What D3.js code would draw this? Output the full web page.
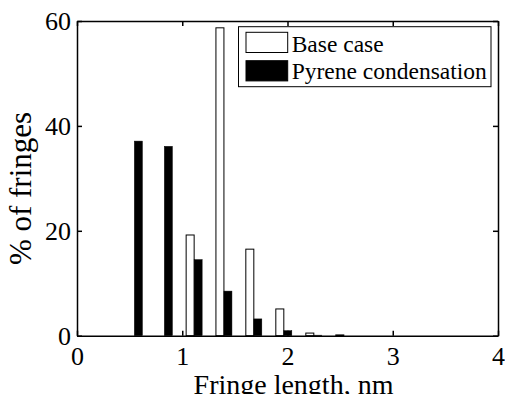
<!DOCTYPE html>
<html>
<head>
<meta charset="utf-8">
<script src="https://cdn.jsdelivr.net/npm/d3@7"></script>
<style>
  body { margin: 0; background: #fff; }
  svg { display: block; font-family: "Liberation Serif", "Times New Roman", serif; }
  .axis text { font-size: 26px; fill: #000; font-family: "Liberation Serif", serif; }
  .axis path, .axis line { stroke: #000; stroke-width: 1.5; }
</style>
</head>
<body>
<div id="chart"></div>
<script>
// bin centres (nm) and percentages per series
var binCenters = [0.545, 0.83, 1.113, 1.396, 1.68, 1.965, 2.25, 2.535];
var baseCase = [0, 0, 19.2, 58.7, 16.5, 5.1, 0.5, 0.15];
var pyrene = [37.1, 36.1, 14.5, 8.5, 3.2, 0.95, 0.1, 0];
var seriesNames = ['Base case', 'Pyrene condensation'];
var seriesFill = ['#fff', '#000'];
var xTicks = [0, 1, 2, 3, 4];
var yTicks = [0, 20, 40, 60];

var width = 505,
    height = 394,
    margin = { left: 77, right: 7, top: 21, bottom: 58.3 };

var chartWidth = width - margin.left - margin.right;
var chartHeight = height - margin.top - margin.bottom;

var svg = d3.select('#chart').append('svg')
    .attr('width', width)
    .attr('height', height);

var xScale = d3.scaleLinear().domain([0, 4]).range([0, chartWidth]);
var yScale = d3.scaleLinear().domain([0, 60]).range([chartHeight, 0]);

var g = svg.append('g')
    .attr('transform', 'translate(' + margin.left + ',' + margin.top + ')');

// grouped bars, two series side by side around each bin centre
var barW = xScale(0.076) - xScale(0);
var seriesData = [baseCase, pyrene];

seriesData.forEach(function (values, si) {
    g.append('g').selectAll('rect')
        .data(values)
        .enter().append('rect')
        .attr('x', function (d, i) {
            return xScale(binCenters[i]) + (si - 1) * barW;
        })
        .attr('y', function (d) { return yScale(d); })
        .attr('width', barW)
        .attr('height', function (d) { return yScale(0) - yScale(d); })
        .attr('fill', seriesFill[si])
        .attr('stroke', '#000')
        .attr('stroke-width', si === 0 ? 1 : 0.5);
});

// axes (ticks pointing inward, MATLAB box)
var fmt = d3.format('d');

g.append('g')
    .attr('class', 'axis x')
    .attr('transform', 'translate(0,' + chartHeight + ')')
    .call(d3.axisBottom(xScale).tickValues(xTicks).tickFormat(fmt).tickSize(-5).tickSizeOuter(0).tickPadding(11));

g.append('g')
    .attr('class', 'axis y')
    .call(d3.axisLeft(yScale).tickValues(yTicks).tickFormat(fmt).tickSize(-5).tickSizeOuter(0).tickPadding(6));

g.append('g')
    .attr('class', 'axis top')
    .call(d3.axisTop(xScale).tickValues(xTicks).tickSize(-5).tickSizeOuter(0).tickFormat(''));

g.append('g')
    .attr('class', 'axis right')
    .attr('transform', 'translate(' + chartWidth + ',0)')
    .call(d3.axisRight(yScale).tickValues(yTicks).tickSize(-5).tickSizeOuter(0).tickFormat(''));

// axis titles
svg.append('text')
    .attr('x', margin.left + chartWidth / 2 + 6)
    .attr('y', 393.5)
    .attr('text-anchor', 'middle')
    .attr('font-size', 28)
    .text('Fringe length, nm');

svg.append('text')
    .attr('transform', 'translate(31,188.5) rotate(-90)')
    .attr('text-anchor', 'middle')
    .attr('font-size', 31)
    .text('% of fringes');

// legend
var legend = svg.append('g').attr('transform', 'translate(238.5,26.7)');
legend.append('rect')
    .attr('width', 252.5)
    .attr('height', 60)
    .attr('fill', '#fff')
    .attr('stroke', '#000')
    .attr('stroke-width', 1);

seriesNames.forEach(function (name, i) {
    legend.append('rect')
        .attr('x', 7.5)
        .attr('y', 5.6 + i * 28.4)
        .attr('width', 41.7)
        .attr('height', 20.2)
        .attr('fill', seriesFill[i])
        .attr('stroke', '#000')
        .attr('stroke-width', 1);
    legend.append('text')
        .attr('x', 53.2)
        .attr('y', 25.3 + i * 27)
        .attr('font-size', 23.5)
        .text(name);
});
</script>
</body>
</html>
